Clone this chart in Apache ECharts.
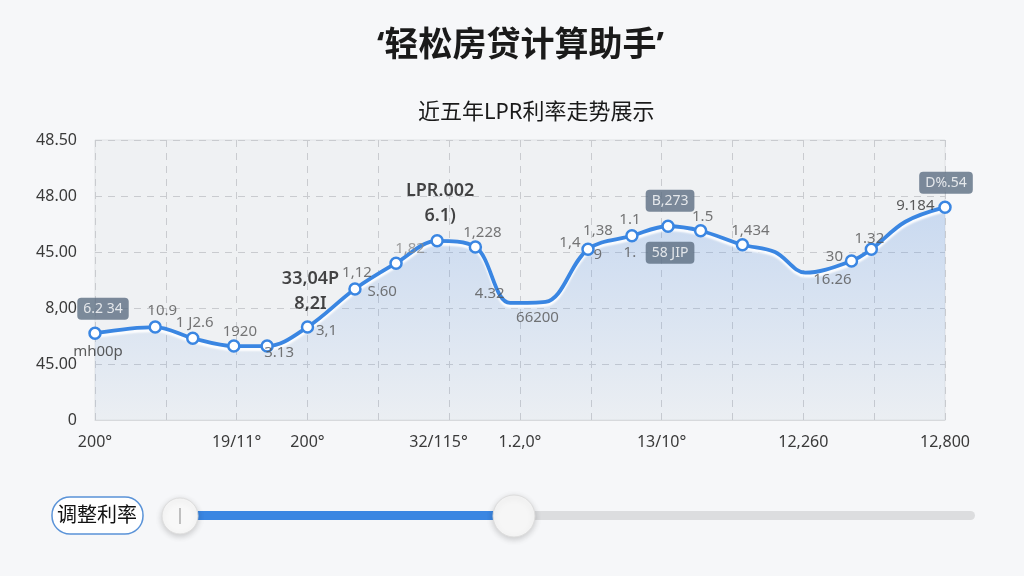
<!DOCTYPE html>
<html>
<head>
<meta charset="utf-8">
<script src="https://cdn.jsdelivr.net/npm/echarts@6/dist/echarts.min.js"></script>
<style>
html,body{margin:0;padding:0;background:#f6f7f9;}
#main{width:1024px;height:576px;}
</style>
</head>
<body>
<div id="main"></div>
<script>
// ---- data ----
const titleText = '‘轻松房贷计算助手’';
const subtitleText = '近五年LPR利率走势展示';
const sliderLabel = '调整利率';
const yTickLabels = ['0', '45.00', '8,00', '45.00', '48.00', '48.50'];
const xTickValues = [0, 2, 3, 4.85, 6, 8, 10, 12];
const xTickLabels = ['200°', '19/11°', '200°', '32/115°', '1.2,0°', '13/10°', '12,260', '12,800'];
const xPositions = [0, 0.85, 1.38, 1.96, 2.43, 3.0, 3.67, 4.25, 4.83, 5.37, 5.86, 6.36, 6.96, 7.58, 8.09, 8.55, 9.14, 9.6, 10.03, 10.68, 10.96, 11.44, 12.0];
const rates = [1.55, 1.66, 1.46, 1.32, 1.32, 1.66, 2.34, 2.80, 3.20, 3.09, 2.09, 2.11, 3.05, 3.29, 3.46, 3.38, 3.13, 3.0, 2.63, 2.84, 3.05, 3.54, 3.80];
const markerShown = [1,1,1,1,1,1,1,1,1,1,0,0,1,1,1,1,1,0,0,1,1,0,1];
const labelsA = ['6.2 34','10.9','1 J2.6','1920','3.13','3,1','1,12','1,82','LPR.002\n6.1)','1,228','4.32','66200','1,38','1.1','B,273','1.5','1,434','','16.26','30','1.32','','D%.54'];
const labelsB = ['mh00p','','','','','33,04P\n8,2I','S.60','','','','','','1,4','1.','58 JIP','','','','','','','','9.184'];
const labelsC = ['','','','','','','','','','','','','9','','','','','','','','','',''];

// ---- styles ----
const BLUE = '#3a86e2';
const FONT = '"Noto Sans", "Noto Sans CJK SC", sans-serif';
const small = {fontSize: 15, color: '#555', fontFamily: FONT};
const big = {fontSize: 18, color: '#161616', fontWeight: 600, lineHeight: 25, fontFamily: FONT};
const box = {fontSize: 14, color: '#fff', backgroundColor: '#5d6e82', padding: [4, 6], borderRadius: 4, fontFamily: FONT};

const layoutA = {
  0: Object.assign({position: 'top', distance: 8, offset: [8, 0]}, box),
  1: Object.assign({position: 'top', distance: 3, offset: [7, 0]}, small),
  2: Object.assign({position: 'top', distance: 3, offset: [2, 0]}, small),
  3: Object.assign({position: 'top', distance: 1, offset: [6, 0]}, small),
  4: Object.assign({position: 'bottom', distance: 0, offset: [12, -6]}, small),
  5: Object.assign({position: 'right', distance: 3, offset: [0, 4]}, small),
  6: Object.assign({position: 'top', distance: 3, offset: [2, 0]}, small),
  7: Object.assign({position: 'top', distance: 3, offset: [14, 2]}, small, {color: '#8a8a8a'}),
  8: Object.assign({position: 'top', distance: 7, offset: [3, 0]}, big),
  9: Object.assign({position: 'top', distance: 1, offset: [7, 0]}, small),
  10: Object.assign({position: 'left', distance: 0, offset: [0, -9]}, small),
  11: Object.assign({position: 'bottom', distance: 3, offset: [-8, 0]}, small),
  12: Object.assign({position: 'top', distance: 5, offset: [10, 0]}, small),
  13: Object.assign({position: 'top', distance: 3, offset: [-2, 0]}, small),
  14: Object.assign({position: 'top', distance: 9, offset: [2, 0]}, box),
  15: Object.assign({position: 'top', distance: 1, offset: [2, 0]}, small),
  16: Object.assign({position: 'top', distance: 1, offset: [8, 0]}, small),
  18: Object.assign({position: 'bottom', distance: 0, offset: [27, -6]}, small),
  19: Object.assign({position: 'left', distance: 3, offset: [0, -4]}, small),
  20: Object.assign({position: 'top', distance: 0, offset: [-2, 3]}, small),
  22: Object.assign({position: 'top', distance: 8, offset: [1, 0]}, box)
};
const layoutB = {
  0: Object.assign({position: 'bottom', distance: 6, offset: [3, 0]}, small, {color: '#333'}),
  5: Object.assign({position: 'top', distance: 5, offset: [3, 0]}, big),
  6: Object.assign({position: 'right', distance: 7, offset: [0, 3]}, small),
  12: Object.assign({position: 'left', distance: 2, offset: [0, -6]}, small),
  13: Object.assign({position: 'bottom', distance: 4, offset: [-2, 0]}, small),
  14: Object.assign({position: 'bottom', distance: 10, offset: [2, 0]}, box),
  22: Object.assign({position: 'left', distance: 5, offset: [0, -1]}, small, {color: '#333'})
};
const layoutC = {
  12: Object.assign({position: 'right', distance: 0, offset: [0, 6]}, small)
};

function labelSeries(labels, layout) {
  return {
    type: 'scatter',
    silent: true,
    symbolSize: 11,
    itemStyle: {color: 'rgba(0,0,0,0)'},
    z: 5,
    data: xPositions.map((x, i) => {
      const item = {value: [x, rates[i]]};
      if (labels[i]) {
        item.label = Object.assign({show: true, formatter: labels[i]}, layout[i] || small);
      }
      return item;
    })
  };
}

const chart = echarts.init(document.getElementById('main'));
chart.setOption({
  backgroundColor: '#f6f7f9',
  animation: false,
  title: [
    {text: titleText, left: 372, top: 24, textStyle: {fontSize: 34, fontWeight: 'bold', color: '#1a1a1a', fontFamily: FONT}},
    {text: subtitleText, left: 413, top: 97, textStyle: {fontSize: 22, fontWeight: 'normal', color: '#1a1a1a', fontFamily: FONT}}
  ],
  grid: {left: 95, right: 79, top: 140, bottom: 156, show: true, backgroundColor: '#eff1f3', borderColor: '#e0e2e5', borderWidth: 1},
  xAxis: {
    type: 'value', min: 0, max: 12, interval: 1,
    axisLine: {show: true, lineStyle: {color: '#d7d9dc'}},
    axisTick: {show: false},
    splitLine: {show: true, lineStyle: {type: [7, 6], color: '#c9cbcf'}},
    axisLabel: {
      customValues: xTickValues,
      formatter: v => { const i = xTickValues.findIndex(t => Math.abs(t - v) < 1e-6); return i >= 0 ? xTickLabels[i] : ''; },
      fontSize: 16, color: '#3a3a3a', margin: 14, fontFamily: FONT
    }
  },
  yAxis: {
    type: 'value', min: 0, max: 5, interval: 1,
    axisLine: {show: false}, axisTick: {show: false},
    splitLine: {show: true, lineStyle: {type: [7, 6], color: '#c9cbcf'}},
    axisLabel: {formatter: v => yTickLabels[Math.round(v)], fontSize: 16, color: '#3a3a3a', margin: 18, fontFamily: FONT}
  },
  series: [
    {
      type: 'line',
      smooth: 0.35,
      z: 3,
      data: xPositions.map((x, i) => ({value: [x, rates[i]], symbolSize: markerShown[i] ? 11 : 0})),
      symbol: 'circle',
      showAllSymbol: true,
      lineStyle: {color: BLUE, width: 3.8, shadowColor: 'rgba(255,255,255,0.95)', shadowBlur: 2, shadowOffsetY: 3},
      itemStyle: {color: '#ffffff', borderColor: BLUE, borderWidth: 2.5},
      areaStyle: {
        color: new echarts.graphic.LinearGradient(0, 0, 0, 1, [
          {offset: 0, color: 'rgba(96,152,232,0.38)'},
          {offset: 1, color: 'rgba(96,152,232,0.04)'}
        ])
      }
    },
    labelSeries(labelsA, layoutA),
    labelSeries(labelsB, layoutB),
    labelSeries(labelsC, layoutC)
  ],
  graphic: [
    {type: 'rect', shape: {x: 52, y: 497, width: 91, height: 37, r: 18}, style: {fill: '#ffffff', stroke: '#5a93d8', lineWidth: 1.5}},
    {type: 'text', x: 97, y: 516, style: {text: sliderLabel, fontSize: 20, fill: '#111', align: 'center', verticalAlign: 'middle', fontFamily: FONT}},
    {type: 'rect', shape: {x: 180, y: 511, width: 795, height: 9, r: 4.5}, style: {fill: '#dcdddf'}},
    {type: 'rect', shape: {x: 180, y: 511, width: 334, height: 9, r: 4.5}, style: {fill: BLUE}},
    {type: 'circle', shape: {cx: 180, cy: 516, r: 18}, style: {fill: '#f8f8f8', stroke: '#dddddd', lineWidth: 1, shadowBlur: 6, shadowColor: 'rgba(0,0,0,0.18)', shadowOffsetY: 2}},
    {type: 'line', shape: {x1: 180, y1: 508, x2: 180, y2: 524}, style: {stroke: '#9a9a9a', lineWidth: 1.2}},
    {type: 'circle', shape: {cx: 514, cy: 516, r: 21}, style: {fill: '#f6f6f6', stroke: '#dddddd', lineWidth: 1, shadowBlur: 6, shadowColor: 'rgba(0,0,0,0.18)', shadowOffsetY: 2}}
  ]
});
</script>
</body>
</html>
